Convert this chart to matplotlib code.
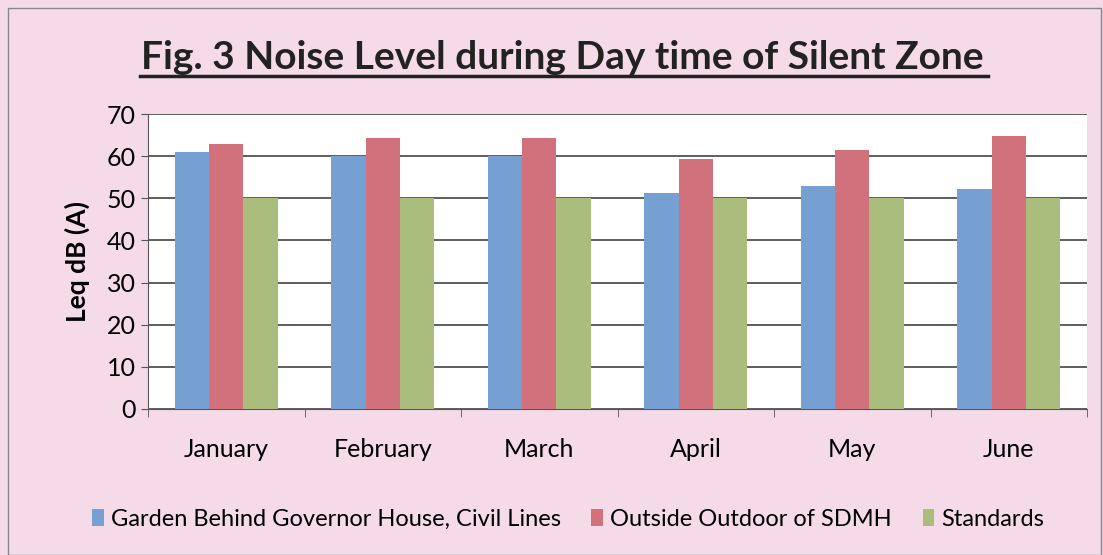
import matplotlib.pyplot as plt
import numpy as np
from matplotlib.patches import Rectangle

months = ["January", "February", "March", "April", "May", "June"]
garden = [61.0, 60.0, 60.0, 51.2, 53.0, 52.3]
sdmh = [62.8, 64.3, 64.3, 59.4, 61.5, 64.8]
standards = [50, 50, 50, 50, 50, 50]
series_names = ["Garden Behind Governor House, Civil Lines",
                "Outside Outdoor of SDMH", "Standards"]
yticks = [0, 10, 20, 30, 40, 50, 60, 70]

colors = ["#76a0d2", "#d1717b", "#aabd7d"]
bg = "#f5dbe8"

plt.rcParams['font.family'] = ['Lato', 'DejaVu Sans']

fig = plt.figure(figsize=(11.03, 5.55), dpi=100, facecolor=bg)
ax = fig.add_axes([148 / 1103, 1 - 409 / 555, (1087 - 148) / 1103, (409 - 114) / 555])
ax.set_facecolor("white")

x = np.arange(len(months))
w = 0.22
for i, (vals, c) in enumerate(zip([garden, sdmh, standards], colors)):
    ax.bar(x + (i - 1) * w, vals, w, color=c, label=series_names[i], zorder=3)

ax.set_xlim(-0.5, len(months) - 0.5)
ax.set_ylim(0, 70)
ax.set_yticks(yticks)
ax.tick_params(axis='y', labelsize=18, length=5, color="#555555", pad=4)
ax.yaxis.grid(True, color="#333333", linewidth=1.1, zorder=0)
ax.set_xticks(x)
ax.set_xticklabels(months, fontsize=18)
ax.tick_params(axis='x', length=0, pad=21)
ax.set_xticks(np.arange(-0.5, len(months)), minor=True)
ax.tick_params(axis='x', which='minor', length=6, color="#555555")
for s in ["top", "right"]:
    ax.spines[s].set_visible(False)
ax.spines["left"].set_color("#555555")
ax.spines["bottom"].set_color("#555555")
ax.set_ylabel("Leq dB (A)", fontsize=19, fontweight="bold", labelpad=12)

fig.text(0.510, 1 - 57 / 555, "Fig. 3 Noise Level during Day time of Silent Zone",
         ha="center", va="center", fontsize=28, fontweight="bold", color="#222222")
fig.add_artist(plt.Line2D([140 / 1103, 988 / 1103], [1 - 76 / 555, 1 - 76 / 555],
                          color="#222222", linewidth=2.5))

fig.legend(loc="center", bbox_to_anchor=(0.515, 1 - 519 / 555), ncol=3, frameon=False,
           fontsize=17, handlelength=0.5, handleheight=0.7, handletextpad=0.3,
           columnspacing=1.3)

fig.add_artist(Rectangle((8 / 1103, 0), 1 - 10 / 1103, 1 - 8 / 555, transform=fig.transFigure,
                         fill=False, edgecolor="#888888", linewidth=1))

fig.savefig("out.png", dpi=100, facecolor=bg)
